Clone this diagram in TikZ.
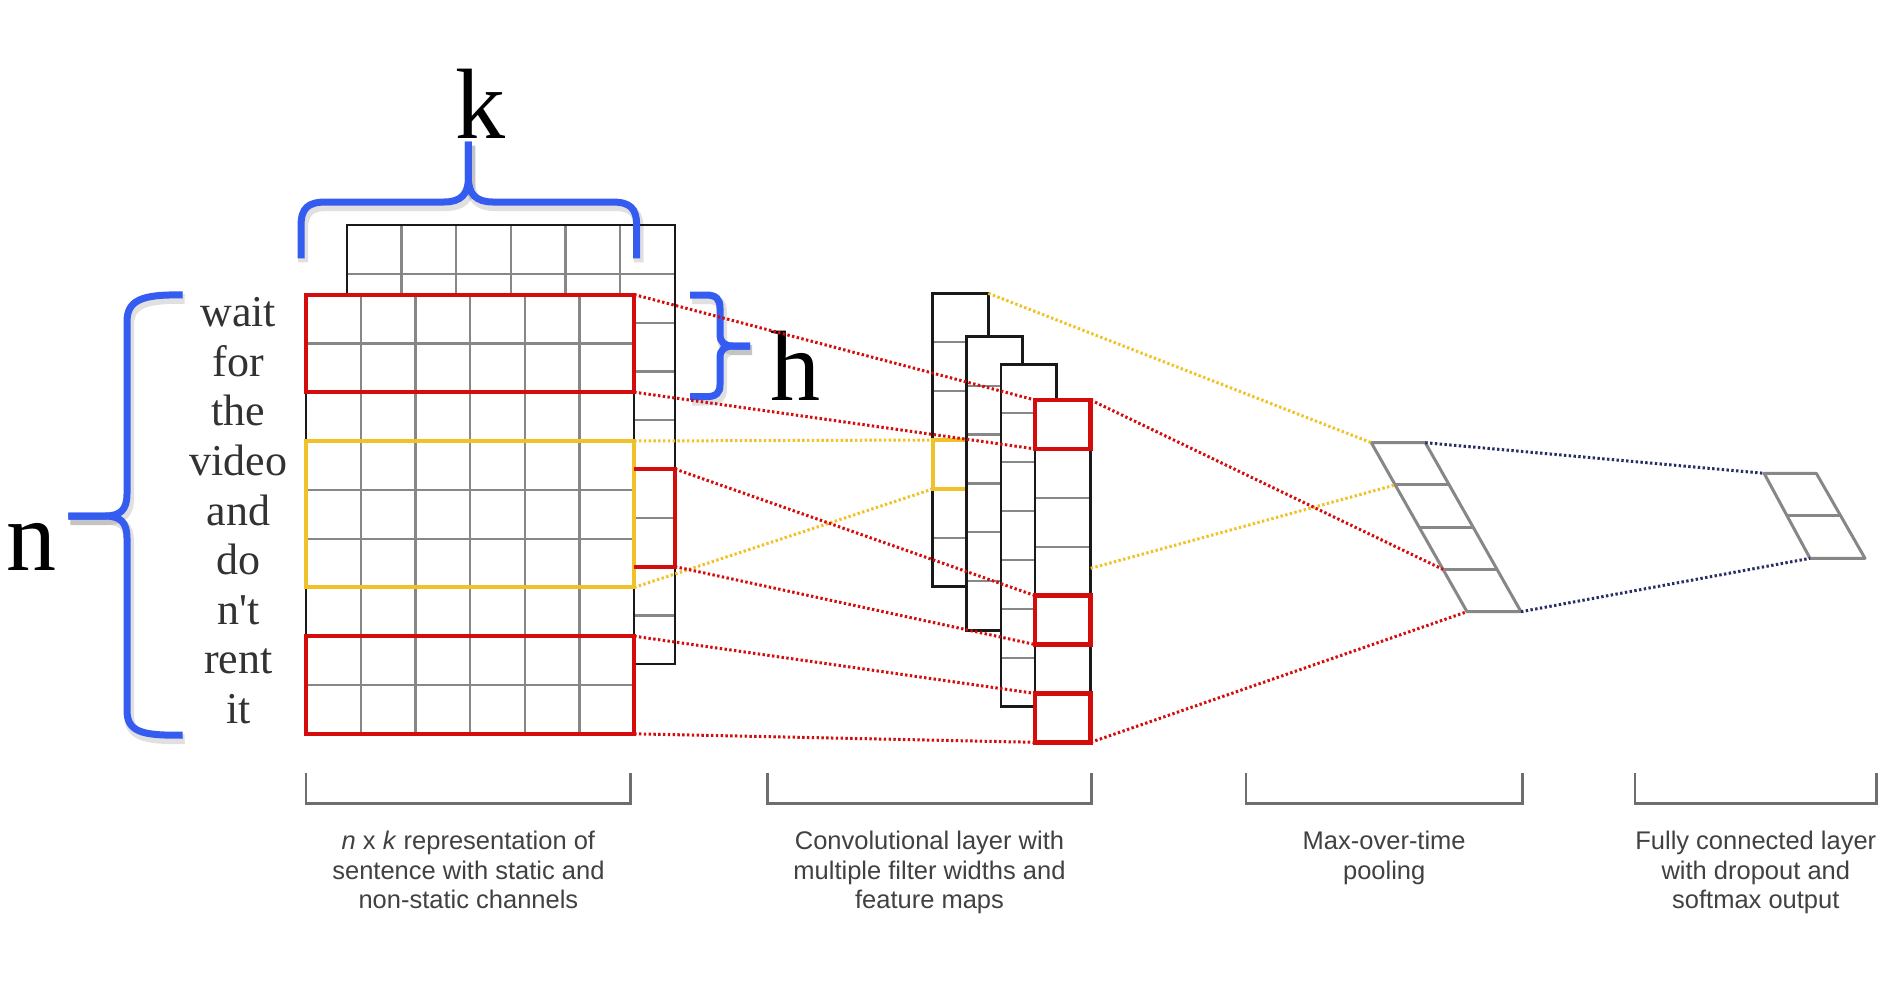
\documentclass[tikz,border=0pt]{standalone}
\usepackage{fontspec}
\usetikzlibrary{calc}
\setmainfont{Liberation Serif}
\newfontfamily\labfont{Liberation Sans}
\definecolor{bblue}{RGB}{52,92,240}
\definecolor{cred}{RGB}{212,12,12}
\definecolor{cyel}{RGB}{240,194,40}
\definecolor{cnavy}{RGB}{40,46,100}
\definecolor{cgray}{RGB}{135,135,135}
\definecolor{cdark}{RGB}{25,25,25}
\definecolor{ctext}{RGB}{65,65,65}
\definecolor{cword}{RGB}{50,50,50}
\definecolor{cbrk}{RGB}{110,110,110}
\newcommand\featmap[4]{%
  \fill[white] (#1,#2) rectangle ++(55.7,#3*48.9);
  \foreach \r in {1,...,#4} \draw[gridline] (#1,#2+\r*48.9) -- ++(55.7,0);
  \draw[mapline] (#1,#2) rectangle ++(55.7,#3*48.9);
}
\newcommand\sentgrid[2]{%
  \fill[white] (#1,#2) rectangle ++(328.2,439.2);
  \foreach \i in {1,...,5} \draw[gridline] (#1+\i*54.7,#2) -- ++(0,439.2);
  \foreach \j in {1,...,8} \draw[gridline] (#1,#2+\j*48.8) -- ++(328.2,0);
  \draw[outline] (#1,#2) rectangle ++(328.2,439.2);
}
\begin{document}
\begin{tikzpicture}[x=0.5pt,y=-0.5pt,
  gridline/.style={cgray,line width=1.1pt},
  outline/.style={cdark,line width=1.2pt},
  mapline/.style={cdark,line width=1.4pt},
  redbox/.style={cred,line width=2pt},
  redcell/.style={cred,line width=2.4pt},
  yelbox/.style={cyel,line width=2pt},
  dots/.style={line width=1.5pt,dash pattern=on 1.2pt off 1.2pt},
  reddot/.style={dots,cred},
  yeldot/.style={dots,cyel},
  navydot/.style={dots,cnavy},
  brace/.style={bblue,line width=3.5pt},
  braceshadow/.style={black,opacity=0.12,line width=5pt},
  pool/.style={cgray,line width=1.5pt,line join=round},
  bracket/.style={cbrk,line width=1.4pt},
  word/.style={font=\fontsize{22}{24}\selectfont,text=cword,anchor=base,inner sep=0pt},
  letter/.style={font=\fontsize{50}{50}\selectfont,anchor=base,inner sep=0pt},
  caption/.style={font=\labfont\fontsize{12.75}{14.75}\selectfont,text=ctext,align=center,anchor=north,inner sep=0pt}]
\useasboundingbox (0,0) rectangle (1886,1003);
\fill[white] (0,0) rectangle (1886,1003);

% ---------------- sentence matrix (two channels) ----------------
\sentgrid{346.7}{225}
\sentgrid{306}{294.6}
\draw[redbox] (306,294.6) rectangle (634.2,392.2);
\draw[yelbox] (306,441) rectangle (634.2,587.4);
\draw[redbox] (306,636.2) rectangle (634.2,733.8);
\draw[redbox] (634.2,469) -- (674.9,469) -- (674.9,566.6) -- (634.2,566.6);

% ---------------- words ----------------
\foreach \w [count=\i from 0] in {wait,for,the,video,and,do,n\textquotesingle t,rent,it}
  \node[word] (w\i) at (238.3,326.7+\i*49.6) {\w};

% ---------------- braces and letters ----------------
\begin{scope}[shift={(2,4)}]
\draw[braceshadow] (182.7,295) .. controls (140,294) and (127,301) .. (127,322) -- (127,494)
  .. controls (127,510) and (120,516) .. (105,516) -- (68.3,516);
\draw[braceshadow] (68.3,516) -- (105,516) .. controls (120,516) and (127,522) .. (127,538) -- (127,710)
  .. controls (127,731) and (140,736) .. (182.7,735);
\draw[braceshadow] (301,258.3) -- (301,226) .. controls (301,208) and (308,202) .. (326,202) -- (444,202)
  .. controls (461,202) and (468.4,194) .. (468.4,178) -- (468.4,141.7);
\draw[braceshadow] (468.4,141.7) -- (468.4,178) .. controls (468.4,194) and (476,202) .. (493,202) -- (612,202)
  .. controls (630,202) and (636.7,208) .. (636.7,226) -- (636.7,258.3);
\draw[braceshadow] (690,295) -- (706,295) .. controls (716,295) and (720,299) .. (720,308) -- (720,334)
  .. controls (720,342) and (724,346) .. (733,346) -- (750,346);
\draw[braceshadow] (750,346) -- (733,346) .. controls (724,346) and (720,350) .. (720,358) -- (720,385)
  .. controls (720,393) and (716,396.7) .. (706,396.7) -- (690,396.7);
\end{scope}
% n brace
\draw[brace] (182.7,295) .. controls (140,294) and (127,301) .. (127,322) -- (127,494)
  .. controls (127,510) and (120,516) .. (105,516) -- (68.3,516);
\draw[brace] (68.3,516) -- (105,516) .. controls (120,516) and (127,522) .. (127,538) -- (127,710)
  .. controls (127,731) and (140,736) .. (182.7,735);
% k brace
\draw[brace] (301,258.3) -- (301,226) .. controls (301,208) and (308,202) .. (326,202) -- (444,202)
  .. controls (461,202) and (468.4,194) .. (468.4,178) -- (468.4,141.7);
\draw[brace] (468.4,141.7) -- (468.4,178) .. controls (468.4,194) and (476,202) .. (493,202) -- (612,202)
  .. controls (630,202) and (636.7,208) .. (636.7,226) -- (636.7,258.3);
% h brace
\draw[brace] (690,295) -- (706,295) .. controls (716,295) and (720,299) .. (720,308) -- (720,334)
  .. controls (720,342) and (724,346) .. (733,346) -- (750,346);
\draw[brace] (750,346) -- (733,346) .. controls (724,346) and (720,350) .. (720,358) -- (720,385)
  .. controls (720,393) and (716,396.7) .. (706,396.7) -- (690,396.7);

\node[letter] (nlab) at (31.7,570) {n};
\node[letter] (klab) at (480,138.3) {k};
\node[letter] (hlab) at (795,400) {h};

% ---------------- feature maps ----------------
\featmap{932.7}{293.3}{6}{5}
\draw[yelbox] (932.7,440) rectangle (988.4,489);
\featmap{966.7}{336.7}{6}{5}
\featmap{1001}{364.3}{7}{6}
\featmap{1035}{400}{7}{6}
\draw[redcell] (1035,400) rectangle (1090.7,448.9);
\draw[redcell] (1035,595.6) rectangle (1090.7,644.5);
\draw[redcell] (1035,693.4) rectangle (1090.7,742.3);

% ---------------- pooling and output ----------------
\coordinate (p-tl) at (1371.3,442.7);
\coordinate (p-tr) at (1425.3,442.7);
\coordinate (p-bl) at (1467,611.7);
\coordinate (p-br) at (1521,611.7);
\draw[pool] (p-tl) -- (p-tr) -- (p-br) -- (p-bl) -- cycle;
\foreach \k in {1,2,3}
  \draw[pool] ($(p-tl)!\k/4!(p-bl)$) -- ($(p-tr)!\k/4!(p-br)$);
\coordinate (f-tl) at (1764.1,473.3);
\coordinate (f-tr) at (1816.3,473.3);
\coordinate (f-bl) at (1810,558.3);
\coordinate (f-br) at (1865,558.3);
\draw[pool] (f-tl) -- (f-tr) -- (f-br) -- (f-bl) -- cycle;
\draw[pool] ($(f-tl)!0.5!(f-bl)$) -- ($(f-tr)!0.5!(f-br)$);

% ---------------- connector end points ----------------
\coordinate (g-r1a) at (634.2,294.6);
\coordinate (g-r1b) at (634.2,392.2);
\coordinate (g-ya) at (634.2,441);
\coordinate (g-yb) at (634.2,587.4);
\coordinate (g-r2a) at (674.9,469);
\coordinate (g-r2b) at (674.9,566.6);
\coordinate (g-r3a) at (634.2,636.2);
\coordinate (g-r3b) at (634.2,733.8);
\coordinate (m-c0a) at (1035,400);
\coordinate (m-c0b) at (1035,448.9);
\coordinate (m-c4a) at (1035,595.6);
\coordinate (m-c4b) at (1035,644.5);
\coordinate (m-c6a) at (1035,693.4);
\coordinate (m-c6b) at (1035,742.3);
\coordinate (m-ya) at (932.7,440);
\coordinate (m-yb) at (932.7,489);
\coordinate (m1-tr) at (988.4,293.3);
\coordinate (m4-tr) at (1090.7,400);
\coordinate (m4-y) at (1090.7,568.3);
\coordinate (m4-br) at (1090.7,742.3);
\coordinate (p-r1) at ($(p-tl)!0.25!(p-bl)$);
\coordinate (p-r3) at ($(p-tl)!0.75!(p-bl)$);

% ---------------- dotted connectors ----------------
\draw[reddot] (g-r1a) -- (m-c0a);
\draw[reddot] (g-r1b) -- (m-c0b);
\draw[yeldot] (g-ya) -- (m-ya);
\draw[yeldot] (g-yb) -- (m-yb);
\draw[reddot] (g-r2a) -- (m-c4a);
\draw[reddot] (g-r2b) -- (m-c4b);
\draw[reddot] (g-r3a) -- (m-c6a);
\draw[reddot] (g-r3b) -- (m-c6b);
\draw[yeldot] (m1-tr) -- (p-tl);
\draw[yeldot] (m4-y) -- (p-r1);
\draw[reddot] (m4-tr) -- (p-r3);
\draw[reddot] (m4-br) -- (p-bl);
\draw[navydot] (p-tr) -- (f-tl);
\draw[navydot] (p-br) -- (f-bl);

% ---------------- bottom brackets and captions ----------------
\foreach \a/\b [count=\i] in {306/630.7, 767.3/1091.7, 1246/1522.3, 1635/1876.7}
  \draw[bracket] (\a,773) -- (\a,803.3) -- (\b,803.3) -- (\b,773);
\node[caption] (cap1) at (468.4,830.7) {\textit{n} x \textit{k} representation of\\sentence with static and\\non-static channels};
\node[caption] (cap2) at (929.5,830.7) {Convolutional layer with\\multiple filter widths and\\feature maps};
\node[caption] (cap3) at (1384.2,830.7) {Max-over-time\\pooling};
\node[caption] (cap4) at (1755.8,830.7) {Fully connected layer\\with dropout and\\softmax output};
\end{tikzpicture}
\end{document}
